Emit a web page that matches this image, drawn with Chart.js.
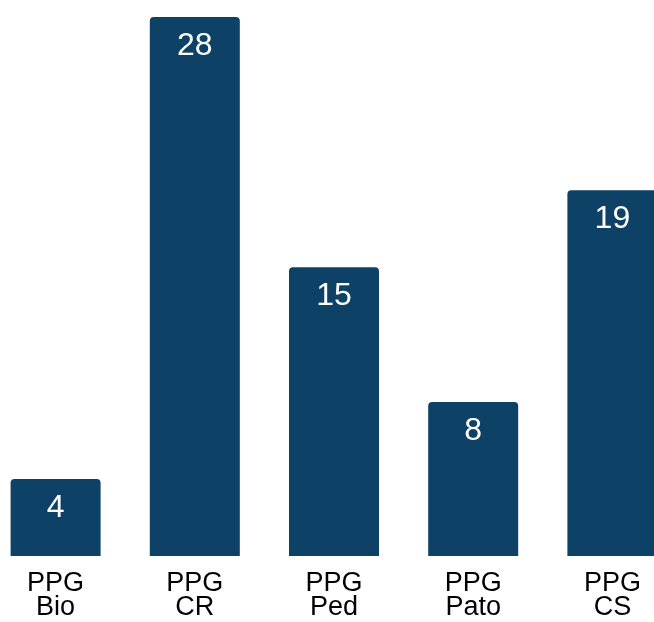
<!DOCTYPE html>
<html>
<head>
<meta charset="utf-8">
<script src="https://cdn.jsdelivr.net/npm/chart.js@4/dist/chart.umd.min.js"></script>
<style>
  html, body { margin: 0; padding: 0; background: #fff; overflow: hidden; }
  #wrap { position: absolute; left: -14px; top: 0; width: 696px; height: 622px; }
</style>
</head>
<body>
<div id="wrap"><canvas id="myChart"></canvas></div>
<script>
// data
const categories = [["PPG", "Bio"], ["PPG", "CR"], ["PPG", "Ped"], ["PPG", "Pato"], ["PPG", "CS"]];
const values = [4, 28, 15, 8, 19];

const barColor = "#0E4166";
const fontFamily = "'Liberation Sans', Arial, sans-serif";

// white value labels inside the top of each bar
const valueLabels = {
  id: "valueLabels",
  afterDatasetsDraw(chart) {
    const ctx = chart.ctx;
    const meta = chart.getDatasetMeta(0);
    ctx.save();
    ctx.fillStyle = "#fff";
    ctx.font = "32px " + fontFamily;
    ctx.textAlign = "center";
    ctx.textBaseline = "middle";
    meta.data.forEach(function (bar, i) {
      ctx.fillText(values[i], bar.x, bar.y + 29);
    });
    ctx.restore();
  }
};

new Chart("myChart", {
  type: "bar",
  data: {
    labels: categories,
    datasets: [{
      data: values,
      backgroundColor: barColor,
      borderRadius: { topLeft: 4, topRight: 4 },
      borderSkipped: "bottom",
      categoryPercentage: 1,
      barPercentage: 0.6466
    }]
  },
  options: {
    responsive: true,
    maintainAspectRatio: false,
    animation: false,
    layout: { padding: { top: 17, left: 0, right: 0, bottom: 0 } },
    plugins: {
      legend: { display: false },
      tooltip: { enabled: false }
    },
    scales: {
      x: {
        grid: { display: false, drawTicks: false },
        border: { display: false },
        ticks: {
          color: "#000",
          padding: 16,
          font: { family: fontFamily, size: 27, lineHeight: 0.87 }
        },
        afterFit(scale) { scale.height = 66; }
      },
      y: {
        display: false,
        min: 0,
        max: 28
      }
    }
  },
  plugins: [valueLabels]
});
</script>
</body>
</html>
